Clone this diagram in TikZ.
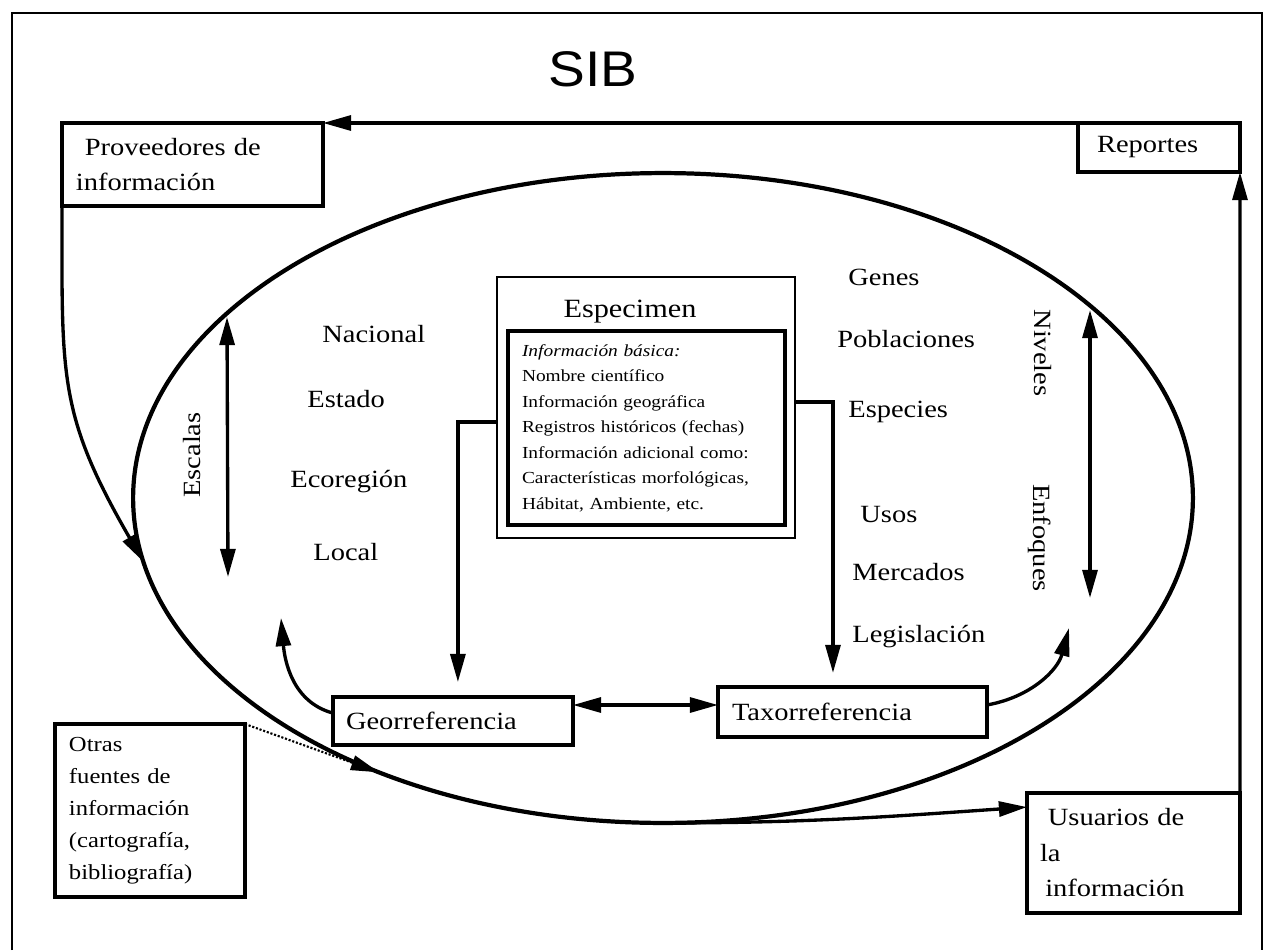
\documentclass[tikz,border=0pt]{standalone}
\usepackage{fontspec}
\setmainfont{Liberation Serif}[FakeStretch=1.15]
\newfontfamily\sibfont{Liberation Sans}[FakeStretch=1.1]
\usetikzlibrary{shapes.geometric, arrows.meta, calc}

\begin{document}
\begin{tikzpicture}[
    x=0.02cm, y=-0.02cm,
    box/.style={draw, line width=2.1pt, anchor=north west, outer sep=0pt, inner xsep=0.28cm, inner ysep=0pt, align=left, font=\fontsize{14.1}{20.2}\selectfont},
    lbl/.style={anchor=base west, inner sep=0pt, font=\fontsize{14.1}{17}\selectfont},
    side/.style={inner sep=0pt, font=\fontsize{14.1}{17}\selectfont},
    arrow/.style={-{Triangle[length=16pt, width=8.5pt]}, line width=1.9pt},
    dblarrow/.style={{Triangle[length=16pt, width=8.5pt]}-{Triangle[length=16pt, width=8.5pt]}, line width=1.9pt},
    dotarrow/.style={densely dotted, line width=1.2pt, -{Triangle[length=16pt, width=8.5pt]}}
]
\useasboundingbox (0,0) rectangle (1264,950);

% frame and title
\draw[line width=1.2pt] (12,950) -- (12,13) -- (1262,13) -- (1262,950);
\node[anchor=base, inner sep=0pt, font=\sibfont\fontsize{28.5}{30}\selectfont] (title) at (593,86) {SIB};

% the system
\node[draw, ellipse, line width=2.4pt, minimum width=21.2cm, minimum height=13cm, inner sep=0pt, outer sep=0pt] (sib) at (663,498) {};

% outside boxes
\node[box, text width=4.66cm, minimum height=1.66cm] (prov) at (62,123) {\hspace*{5pt}Proveedores de\\información};
\node[box, inner xsep=0.38cm, text width=2.48cm, minimum height=0.98cm] (rep) at (1078,123) {Reportes};
\node[box, inner xsep=0.26cm, text width=3.74cm, minimum height=2.4cm] (usu) at (1027,793) {\hspace*{4.5pt}Usuarios de\\la\\\hspace*{3pt}información};
\node[box, text width=3.24cm, minimum height=3.46cm, font=\fontsize{12.2}{18.2}\selectfont] (otras) at (55,724) {Otras\\fuentes de\\información\\(cartografía,\\bibliografía)};

% specimen
\node[draw, line width=1.6pt, anchor=north west, outer sep=0pt, minimum width=5.96cm, minimum height=5.22cm] (spec) at (497,277) {};
\node[anchor=base, inner sep=0pt, font=\fontsize{15}{18}\selectfont] (spectitle) at (630,317) {Especimen};
\node[box, line width=2.3pt, text width=4.98cm, minimum height=3.88cm, font=\fontsize{9.6}{14.5}\selectfont] (info) at (508,331) {\textit{Información básica:}\\Nombre científico\\Información geográfica\\Registros históricos (fechas)\\Información adicional como:\\Características morfológicas,\\Hábitat, Ambiente, etc.};

% references
\node[box, inner xsep=0.26cm, text width=4.28cm, minimum height=0.96cm] (geo) at (333,697) {Georreferencia};
\node[box, text width=4.82cm, minimum height=1.0cm] (taxo) at (718,687) {Taxorreferencia};

% scales
\node[lbl] (nac) at (322,342) {Nacional};
\node[lbl] (est) at (307,407) {Estado};
\node[lbl] (eco) at (290,487) {Ecoregión};
\node[lbl] (loc) at (313,560) {Local};
\node[side, rotate=90] (esc) at (192,455) {Escalas};

% levels and approaches
\node[lbl] (gen) at (848,285) {Genes};
\node[lbl] (pob) at (837,347) {Poblaciones};
\node[lbl] (esp) at (848,417) {Especies};
\node[lbl] (uso) at (860,522) {Usos};
\node[lbl] (mer) at (852,580) {Mercados};
\node[lbl] (leg) at (852,642) {Legislación};
\node[side, rotate=-90] (niv) at (1043,353) {Niveles};
\node[side, rotate=-90] (enf) at (1040,538) {Enfoques};

\coordinate (escTop) at (227,317);
\coordinate (escBot) at (228,577);
\coordinate (nivTop) at (1090,310);
\coordinate (nivBot) at (1090,598);
\coordinate (stubL) at (0,422);
\coordinate (stubR) at (0,402);
\coordinate (mid) at (0,705);
\coordinate (geoTip) at (281,618);
\coordinate (taxTip) at (1069,628);

% connectors
\draw[arrow] (rep.north west) -- (prov.north east);
\draw[arrow] (usu.north east) -- (rep.south east);
\draw[arrow] (prov.south west) to[out=-90, in=120, looseness=1.2] (sib.187.5);
\draw[dotarrow] (otras.north east) -- (sib.224.5);
\draw[arrow] (sib.south) to[out=0, in=184] ([yshift=-8pt]usu.north west);
\draw[dblarrow] (escTop) -- (escBot);
\draw[dblarrow] (nivTop) -- (nivBot);
\draw[arrow] (spec.west |- stubL) -| ([xshift=2.8pt, yshift=8.5pt]geo.north);
\draw[arrow] (spec.east |- stubR) -| ([xshift=-11.1pt, yshift=8pt]taxo.north);
\draw[dblarrow] (geo.east |- mid) -- (taxo.west |- mid);
\draw[arrow] ([yshift=4.5pt]geo.west) to[out=165, in=-85] (geoTip);
\draw[arrow] ([yshift=4pt]taxo.east) to[out=10, in=-105] (taxTip);

\end{tikzpicture}
\end{document}
